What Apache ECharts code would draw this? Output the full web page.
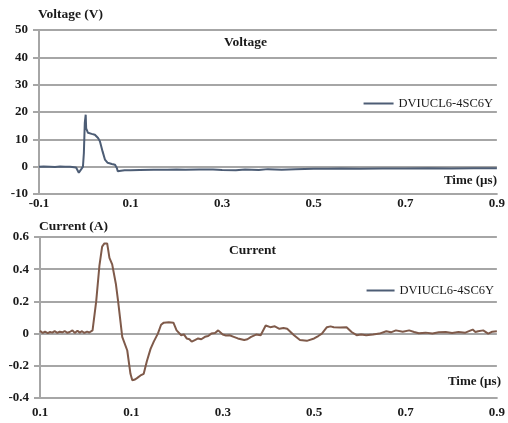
<!DOCTYPE html>
<html><head><meta charset="utf-8">
<script src="https://cdn.jsdelivr.net/npm/echarts@6/dist/echarts.min.js"></script>
<style>html,body{margin:0;padding:0;background:#fff}#c{width:508px;height:423px}</style>
</head><body><div id="c"></div>
<script>
const seriesName = 'DVIUCL6-4SC6Y';
const xTickLabelsTop = ['-0.1','0.1','0.3','0.5','0.7','0.9'];
const xTickLabelsBottom = ['0.1','0.1','0.3','0.5','0.7','0.9'];

const voltageTime = [-0.1,-0.09,-0.076,-0.065,-0.054,-0.043,-0.032,-0.028,-0.019,-0.013,-0.008,-0.004,-0.002,0.0,0.002,0.003,0.007,0.015,0.022,0.029,0.033,0.039,0.044,0.05,0.059,0.066,0.07,0.072,0.079,0.087,0.1,0.12,0.15,0.18,0.2,0.22,0.25,0.28,0.3,0.33,0.35,0.38,0.4,0.43,0.46,0.5,0.53,0.56,0.6,0.65,0.7,0.75,0.8,0.85,0.9];
const voltageValue = [0,0.1,0,-0.1,0.1,0,0,0.2,-0.3,-2.2,-1,0,5,16,19,14,12.4,12,11.7,10.5,9.3,5.5,2.6,1.4,1,0.7,-0.5,-1.7,-1.5,-1.3,-1.3,-1.2,-1.1,-1.1,-1.0,-1.1,-1.0,-1.0,-1.2,-1.3,-1.0,-1.2,-0.9,-1.1,-0.9,-0.8,-0.8,-0.7,-0.8,-0.7,-0.7,-0.6,-0.7,-0.6,-0.6];

const currentTime = [-0.1,-0.094,-0.089,-0.083,-0.078,-0.073,-0.068,-0.062,-0.057,-0.051,-0.046,-0.04,-0.035,-0.029,-0.024,-0.018,-0.013,-0.008,-0.003,0.003,0.008,0.015,0.023,0.03,0.036,0.041,0.047,0.052,0.058,0.066,0.071,0.08,0.091,0.098,0.102,0.108,0.113,0.12,0.127,0.134,0.142,0.149,0.158,0.165,0.171,0.182,0.192,0.199,0.209,0.215,0.221,0.227,0.232,0.239,0.246,0.253,0.261,0.268,0.275,0.283,0.29,0.3,0.307,0.315,0.324,0.333,0.347,0.354,0.362,0.373,0.383,0.394,0.404,0.414,0.424,0.433,0.441,0.456,0.469,0.484,0.5,0.509,0.517,0.528,0.536,0.543,0.557,0.571,0.582,0.593,0.603,0.614,0.629,0.643,0.658,0.668,0.679,0.694,0.708,0.719,0.729,0.744,0.759,0.773,0.788,0.802,0.816,0.831,0.847,0.853,0.859,0.87,0.881,0.89,0.9];
const currentValue = [0.018,0.004,0.012,0.003,0.01,0.006,0.015,0.004,0.012,0.008,0.016,0.005,0.01,0.02,0.004,0.018,0.006,0.015,0.004,0.012,0.007,0.02,0.2,0.42,0.54,0.56,0.56,0.47,0.43,0.31,0.2,-0.02,-0.105,-0.25,-0.29,-0.285,-0.275,-0.26,-0.25,-0.17,-0.095,-0.05,0,0.055,0.068,0.07,0.068,0.02,-0.01,-0.005,-0.03,-0.035,-0.05,-0.04,-0.03,-0.035,-0.02,-0.015,0,0.004,0.02,-0.006,-0.012,-0.01,-0.02,-0.03,-0.04,-0.035,-0.02,-0.006,-0.01,0.05,0.04,0.045,0.03,0.035,0.03,-0.01,-0.04,-0.045,-0.03,-0.015,0,0.04,0.045,0.04,0.038,0.04,0.01,-0.01,-0.005,-0.01,-0.006,0.0,0.015,0.008,0.02,0.012,0.02,0.01,0.002,0.006,0,0.008,0.01,0.004,0.01,0.006,0.025,0.01,0.015,0.02,0,0.012,0.015];

const voltagePairs = voltageTime.map((t,i)=>[t, voltageValue[i]]);
const currentPairs = currentTime.map((t,i)=>[t, currentValue[i]]);

const FONT = '"Liberation Serif", "Times New Roman", serif';
const GRID = '#a6a6a6';
const TXT = '#1a1a1a';

function xAxisFor(gridIndex, labels){
  return {
    type:'value', gridIndex, min:-0.1, max:0.9, interval:0.2,
    axisLine:{show:true, onZero:false, lineStyle:{color:GRID, width:2}},
    axisTick:{show:false},
    splitLine:{show:false},
    axisLabel:{
      color:TXT, fontFamily:FONT, fontWeight:'bold', fontSize:13,
      margin: gridIndex===0 ? 3 : 8,
      formatter:(v)=>{const k=Math.round((v+0.1)/0.2); return labels[k]!==undefined?labels[k]:'';}
    }
  };
}
function yAxisFor(gridIndex, min, max, interval, fmt){
  return {
    type:'value', gridIndex, min, max, interval,
    axisLine:{show:true, onZero:false, lineStyle:{color:GRID, width:2}},
    axisTick:{show:true, length:6, lineStyle:{color:GRID, width:2}},
    splitLine:{show:true, lineStyle:{color:GRID, width:2}},
    axisLabel:{color:TXT, fontFamily:FONT, fontWeight:'bold', fontSize:13, margin:11, formatter:fmt}
  };
}

const chart = echarts.init(document.getElementById('c'), null, {renderer:'canvas'});
chart.setOption({
  animation:false,
  backgroundColor:'#fff',
  grid:[
    {left:39, right:10, top:30, bottom:229},
    {left:40, right:6, top:237, bottom:25}
  ],
  xAxis:[xAxisFor(0, xTickLabelsTop), xAxisFor(1, xTickLabelsBottom)],
  yAxis:[
    yAxisFor(0, -10, 50, 10, (v)=>String(v)),
    yAxisFor(1, -0.4, 0.6, 0.2, (v)=>{const r=Math.round(v*10)/10; return r===0?'0':String(r);})
  ],
  legend:[
    {data:[seriesName], right:10, top:92, icon:'rect', itemWidth:30, itemHeight:2, itemGap:3,
     textStyle:{fontFamily:FONT, fontSize:12.5, color:TXT}, selectedMode:false},
    {data:[seriesName], right:9, top:279, icon:'rect', itemWidth:28, itemHeight:2, itemGap:6,
     textStyle:{fontFamily:FONT, fontSize:12.5, color:TXT}, selectedMode:false}
  ],
  series:[
    {name:seriesName, type:'line', xAxisIndex:0, yAxisIndex:0, data:voltagePairs, symbol:'none',
     lineStyle:{color:'#4d5d75', width:2}, itemStyle:{color:'#4d5d75'}},
    {name:seriesName, type:'line', xAxisIndex:1, yAxisIndex:1, data:currentPairs, symbol:'none',
     lineStyle:{color:'#7f5a4a', width:2}, itemStyle:{color:'#7f5a4a'}}
  ],
  graphic:[
    {type:'text', left:38, top:8, style:{text:'Voltage (V)', fill:TXT, font:'bold 13.5px '+FONT}},
    {type:'text', left:224, top:36, style:{text:'Voltage', fill:TXT, font:'bold 13.5px '+FONT}},
    {type:'text', right:11, top:174, style:{text:'Time (\u00b5s)', fill:TXT, font:'bold 13px '+FONT}},
    {type:'text', left:39, top:220, style:{text:'Current (A)', fill:TXT, font:'bold 13.5px '+FONT}},
    {type:'text', left:229, top:244, style:{text:'Current', fill:TXT, font:'bold 13.5px '+FONT}},
    {type:'text', right:7, top:375, style:{text:'Time (\u00b5s)', fill:TXT, font:'bold 13px '+FONT}}
  ]
});
</script></body></html>
